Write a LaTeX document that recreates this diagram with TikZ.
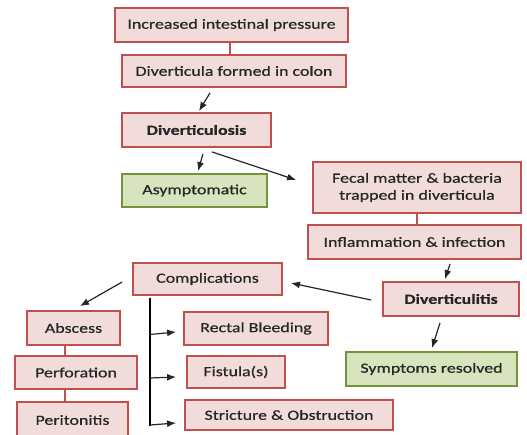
\documentclass[tikz,border=0pt]{standalone}
\usepackage{fontspec}
\setmainfont{Carlito}[FakeStretch=1.28,FakeBold=0.6]
\usetikzlibrary{calc,arrows.meta}
\definecolor{pfill}{HTML}{F2DCDB}
\definecolor{pdraw}{HTML}{C0504D}
\definecolor{gfill}{HTML}{D7E4BD}
\definecolor{gdraw}{HTML}{76923C}
\definecolor{txt}{HTML}{262626}
\tikzset{
  pbox/.style={draw=pdraw, fill=pfill, line width=1.8pt, inner sep=0pt, align=center, text=txt, font=\fontsize{14}{17}\selectfont},
  gbox/.style={draw=gdraw, fill=gfill, line width=1.8pt, inner sep=0pt, align=center, text=txt, font=\fontsize{14}{17}\selectfont},
  arr/.style={-{Latex[length=9pt,width=7pt]}, line width=1.2pt, draw=black!85},
  plain/.style={line width=1.5pt, draw=pdraw},
  spinel/.style={line width=2.6pt, draw=black}
}
\begin{document}
\begin{tikzpicture}[x=1pt,y=-1pt]
\useasboundingbox (0,0) rectangle (527,435);
\node[pbox, minimum width=233, minimum height=34] (a) at (231.5,25) {Increased intestinal pressure};
\node[pbox, minimum width=224, minimum height=32] (b) at (234,71) {Diverticula formed in colon};
\node[pbox, minimum width=149, minimum height=34] (c) at (196.5,130) {\textbf{Diverticulosis}};
\node[gbox, minimum width=145, minimum height=33] (d) at (194.5,190.5) {Asymptomatic};
\node[pbox, minimum width=208, minimum height=51] (e) at (417,187.5) {Fecal matter \& bacteria\\trapped in diverticula};
\node[pbox, minimum width=213, minimum height=34] (f) at (414.5,242) {Inflammation \& infection};
\node[pbox, minimum width=136, minimum height=34] (g) at (451,299) {\textbf{Diverticulitis}};
\node[gbox, minimum width=171, minimum height=34] (h) at (431.5,369) {Symptoms resolved};
\node[pbox, minimum width=149, minimum height=32] (i) at (207.5,279) {Complications};
\node[pbox, minimum width=93, minimum height=34] (j) at (73.5,328) {Abscess};
\node[pbox, minimum width=122, minimum height=33] (k) at (76,372.5) {Perforation};
\node[pbox, minimum width=111, minimum height=36] (l) at (72.5,420) {Peritonitis};
\node[pbox, minimum width=144, minimum height=33] (m) at (256,328.5) {Rectal Bleeding};
\node[pbox, minimum width=98, minimum height=32] (n) at (236,372) {Fistula(s)};
\node[pbox, minimum width=208, minimum height=30] (o) at (289,415) {Stricture \& Obstruction};
% plain links
\draw[plain] ($(a.south)+(-1.5,0)$) -- ($(b.north)+(-4,0)$);
\draw[plain] (e.south) -- ($(f.north)+(2.5,0)$);
\draw[plain] ($(j.south)+(-8.5,0)$) -- ($(k.north)+(-11,0)$);
\draw[plain] ($(k.south)+(-11,0)$) -- ($(l.north)+(-7.5,0)$);
% arrows
\draw[arr] ($(b.south)+(-24,5)$) -- ($(c.north)+(2.5,-1)$);
\draw[arr] ($(c.south)+(6.5,6)$) -- ($(d.north)+(3.5,-2)$);
\draw[arr] ($(c.south)+(15.5,4)$) -- ($(e.west)+(-16,-7.5)$);
\draw[arr] ($(f.south)+(35.5,4)$) -- ($(g.north)+(-6,-2)$);
\draw[arr] ($(g.south)+(-11,6)$) -- ($(h.north)+(0.5,-3)$);
\draw[arr] ($(g.west)+(-11,1)$) -- ($(i.east)+(8,4)$);
\draw[arr] ($(i.west)+(-10,3)$) -- ($(j.north)+(6.5,-4)$);
% spine
\coordinate (spine) at (150,425);
\draw[spinel] ($(i.south -| spine)+(0,2)$) -- ($(spine)+(0,1)$);
\draw[arr] ($(m.west -| spine)+(0,6)$) -- ($(m.west)+(-7,3.5)$);
\draw[arr] ($(n.west -| spine)+(0,6)$) -- ($(n.west)+(-10,5)$);
\draw[arr] (spine) -- ($(o.west)+(-8,8)$);
\end{tikzpicture}
\end{document}
